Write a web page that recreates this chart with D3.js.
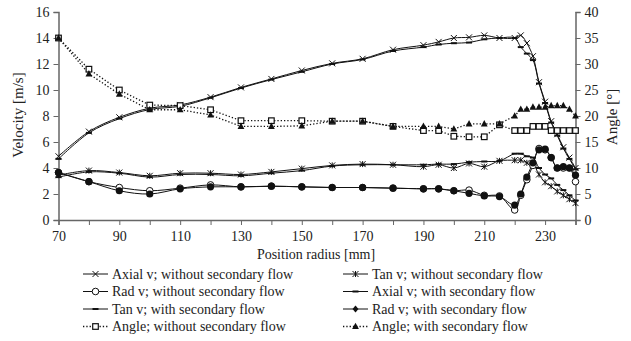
<!DOCTYPE html>
<html>
<head>
<meta charset="utf-8">
<script src="https://cdn.jsdelivr.net/npm/d3@7"></script>
<style>
  body { margin: 0; background: #fff; }
  text { font-family: "Liberation Serif", "DejaVu Serif", serif; fill: #222; }
</style>
</head>
<body>
<script>
// radial positions [mm]
const radius = [70, 80, 90, 100, 110, 120, 130, 140, 150, 160, 170, 180, 190, 195, 200, 205, 210, 215,
  220, 222, 224, 226, 228, 230, 232, 234, 236, 238, 240];

// velocities [m/s]
const axialWithout = [4.9, 6.8, 7.9, 8.6, 8.85, 9.45, 10.2, 10.85, 11.5, 12.05, 12.4, 13.1, 13.45, 13.7, 14.0, 14.05, 14.2, 14.0,
  14.0, 14.2, 13.6, 12.6, 10.6, 9.1, 7.6, 6.6, 5.6, 4.8, 4.0];
const axialWith = [4.7, 6.7, 7.8, 8.5, 8.75, 9.4, 10.15, 10.8, 11.4, 12.0, 12.35, 13.0, 13.3, 13.5, 13.6, 13.65, 13.9, 14.0,
  14.0, 13.3, 12.8, 12.3, 10.5, 9.0, 7.5, 6.5, 5.5, 4.7, 3.9];
const tanWithout = [3.45, 3.8, 3.65, 3.4, 3.6, 3.6, 3.5, 3.7, 3.95, 4.2, 4.3, 4.25, 4.1, 4.25, 4.0, 4.35, 4.1, 4.55,
  4.6, 4.6, 4.4, 4.3, 3.5, 2.9, 2.6, 2.2, 1.9, 1.6, 1.3];
const tanWith = [3.3, 3.7, 3.6, 3.3, 3.5, 3.5, 3.4, 3.6, 3.8, 4.15, 4.25, 4.25, 4.25, 4.3, 4.3, 4.45, 4.5, 4.55,
  5.1, 5.1, 4.9, 4.8, 4.0, 3.5, 3.2, 2.7, 2.3, 1.9, 1.5];
const radWithout = [3.65, 2.95, 2.5, 2.25, 2.45, 2.7, 2.55, 2.6, 2.55, 2.5, 2.5, 2.45, 2.4, 2.4, 2.25, 2.3, 1.9, 1.85,
  0.77, 1.9, 3.1, 4.2, 5.5, 5.4, 4.8, 4.0, 4.0, 4.0, 2.95];
const radWith = [3.65, 2.95, 2.25, 2.0, 2.4, 2.55, 2.55, 2.6, 2.55, 2.5, 2.5, 2.45, 2.4, 2.4, 2.25, 2.05, 1.85, 1.8,
  1.15, 2.0, 3.3, 4.4, 5.4, 5.45, 4.8, 4.0, 4.1, 4.0, 3.45];

// angles [deg]
const angleWithout = [35, 29, 25, 22.1, 22, 21.2, 19.1, 19.1, 19.1, 19, 19, 18, 17.2, 17.2, 16.1, 16, 16, 18.3,
  17.2, 17.2, 17.2, 18, 18, 18, 17.2, 17.2, 17.2, 17.2, 17.2];
const angleWith = [35, 28.1, 24.2, 21.2, 21.2, 20.2, 18, 18, 18.1, 19, 19, 18, 18, 18, 17.5, 18.5, 18.5, 18.5,
  20, 21.3, 21.3, 21.7, 21.7, 21.7, 22, 22, 22, 21.3, 20];

const velTicks = [0, 2, 4, 6, 8, 10, 12, 14, 16];
const angTicks = [0, 5, 10, 15, 20, 25, 30, 35, 40];
const radTicks = [70, 90, 110, 130, 150, 170, 190, 210, 230];

const series = [
  { name: "Axial v; without secondary flow", values: axialWithout, axis: "L", marker: "x", dotted: false },
  { name: "Tan v; without secondary flow", values: tanWithout, axis: "L", marker: "asterisk", dotted: false },
  { name: "Rad v; without secondary flow", values: radWithout, axis: "L", marker: "circle", dotted: false },
  { name: "Axial v; with secondary flow", values: axialWith, axis: "L", marker: "dash", dotted: false },
  { name: "Tan v; with secondary flow", values: tanWith, axis: "L", marker: "dash", dotted: false },
  { name: "Rad v; with secondary flow", values: radWith, axis: "L", marker: "dot", dotted: false },
  { name: "Angle; without secondary flow", values: angleWithout, axis: "R", marker: "square", dotted: true },
  { name: "Angle; with secondary flow", values: angleWith, axis: "R", marker: "triangle", dotted: true }
];

const width = 631, height = 341;
const svg = d3.select("body").append("svg")
  .attr("width", width).attr("height", height);

const x = d3.scaleLinear().domain([70, 240]).range([58.5, 575.5]);
const yL = d3.scaleLinear().domain([0, 16]).range([220, 12]);
const yR = d3.scaleLinear().domain([0, 40]).range([220, 12]);

const axisColor = "#666";

// x axis
const gx = svg.append("g").attr("transform", "translate(0,220)")
  .call(d3.axisBottom(x).tickValues(d3.range(70, 241, 10)).tickSize(5)
    .tickFormat(d => radTicks.includes(d) ? d : ""));
gx.selectAll("text").attr("dy", "0.95em").style("font-size", "14px");

// left axis
const gl = svg.append("g").attr("transform", "translate(58.5,0)")
  .call(d3.axisLeft(yL).tickValues(velTicks).tickSize(5).tickPadding(4));
gl.selectAll("text").style("font-size", "14px");

// right axis
const gr = svg.append("g").attr("transform", "translate(575.5,0)")
  .call(d3.axisRight(yR).tickValues(angTicks).tickSize(5).tickPadding(4));
gr.selectAll("text").style("font-size", "14px");

svg.selectAll(".domain").attr("stroke", axisColor).attr("stroke-width", 1.5);
svg.selectAll(".tick line").attr("stroke", axisColor);
svg.selectAll(".tick text").attr("fill", "#222").attr("font-family", "Liberation Serif");

// axis titles
svg.append("text").attr("x", 316).attr("y", 259).attr("text-anchor", "middle")
  .style("font-size", "14px").text("Position radius [mm]");
svg.append("text").attr("transform", "translate(23,115) rotate(-90)").attr("text-anchor", "middle")
  .style("font-size", "15px").text("Velocity [m/s]");
svg.append("text").attr("transform", "translate(617,117) rotate(-90)").attr("text-anchor", "middle")
  .style("font-size", "15px").text("Angle [°]");

function drawMarker(g, type, cx, cy) {
  const s = 3;
  if (type === "x" || type === "asterisk") {
    g.append("path").attr("d", `M${cx - s},${cy - s}L${cx + s},${cy + s}M${cx - s},${cy + s}L${cx + s},${cy - s}` +
      (type === "asterisk" ? `M${cx},${cy - s}L${cx},${cy + s}` : ""))
      .attr("stroke", "#111").attr("stroke-width", 1).attr("fill", "none");
  } else if (type === "circle") {
    g.append("circle").attr("cx", cx).attr("cy", cy).attr("r", 3.3)
      .attr("fill", "#fff").attr("stroke", "#111").attr("stroke-width", 1);
  } else if (type === "dot") {
    g.append("circle").attr("cx", cx).attr("cy", cy).attr("r", 3.6).attr("fill", "#111");
  } else if (type === "diamond") {
    g.append("path").attr("d", `M${cx},${cy - 3.5}L${cx + 3},${cy}L${cx},${cy + 3.5}L${cx - 3},${cy}Z`).attr("fill", "#111");
  } else if (type === "dash") {
    g.append("path").attr("d", `M${cx - 3},${cy}L${cx + 3},${cy}`).attr("stroke", "#111").attr("stroke-width", 2);
  } else if (type === "square") {
    g.append("rect").attr("x", cx - 2.8).attr("y", cy - 2.8).attr("width", 5.6).attr("height", 5.6)
      .attr("fill", "#fff").attr("stroke", "#111").attr("stroke-width", 1.2);
  } else if (type === "triangle") {
    g.append("path").attr("d", `M${cx},${cy - 3.8}L${cx + 3.4},${cy + 2.6}L${cx - 3.4},${cy + 2.6}Z`).attr("fill", "#111");
  }
}

const plot = svg.append("g");
series.forEach(s => {
  const y = s.axis === "L" ? yL : yR;
  const pts = radius.map((r, i) => [x(r), y(s.values[i])]);
  const line = d3.line().curve(s.dotted ? d3.curveLinear : d3.curveCatmullRom.alpha(0.5));
  plot.append("path").attr("d", line(pts)).attr("fill", "none")
    .attr("stroke", "#111").attr("stroke-width", s.dotted ? 1.3 : 1)
    .attr("stroke-dasharray", s.dotted ? "1.3,2" : null);
});
series.forEach(s => {
  const y = s.axis === "L" ? yL : yR;
  const g = plot.append("g");
  radius.forEach((r, i) => drawMarker(g, s.marker, x(r), y(s.values[i])));
});

// legend, two columns filled row by row
series.forEach((s, i) => {
  const col = i % 2, row = Math.floor(i / 2);
  const lx = col === 0 ? 83 : 343;
  const ly = 274 + row * 17.5;
  const g = svg.append("g");
  g.append("line").attr("x1", lx).attr("x2", lx + 25).attr("y1", ly).attr("y2", ly)
    .attr("stroke", "#111").attr("stroke-width", s.dotted ? 1.3 : 1)
    .attr("stroke-dasharray", s.dotted ? "1.3,2" : null);
  drawMarker(g, s.marker === "dot" ? "diamond" : s.marker, lx + 12.5, ly);
  g.append("text").attr("x", lx + 29).attr("y", ly).attr("dy", "0.35em")
    .style("font-size", "14px").text(s.name);
});
</script>
</body>
</html>
